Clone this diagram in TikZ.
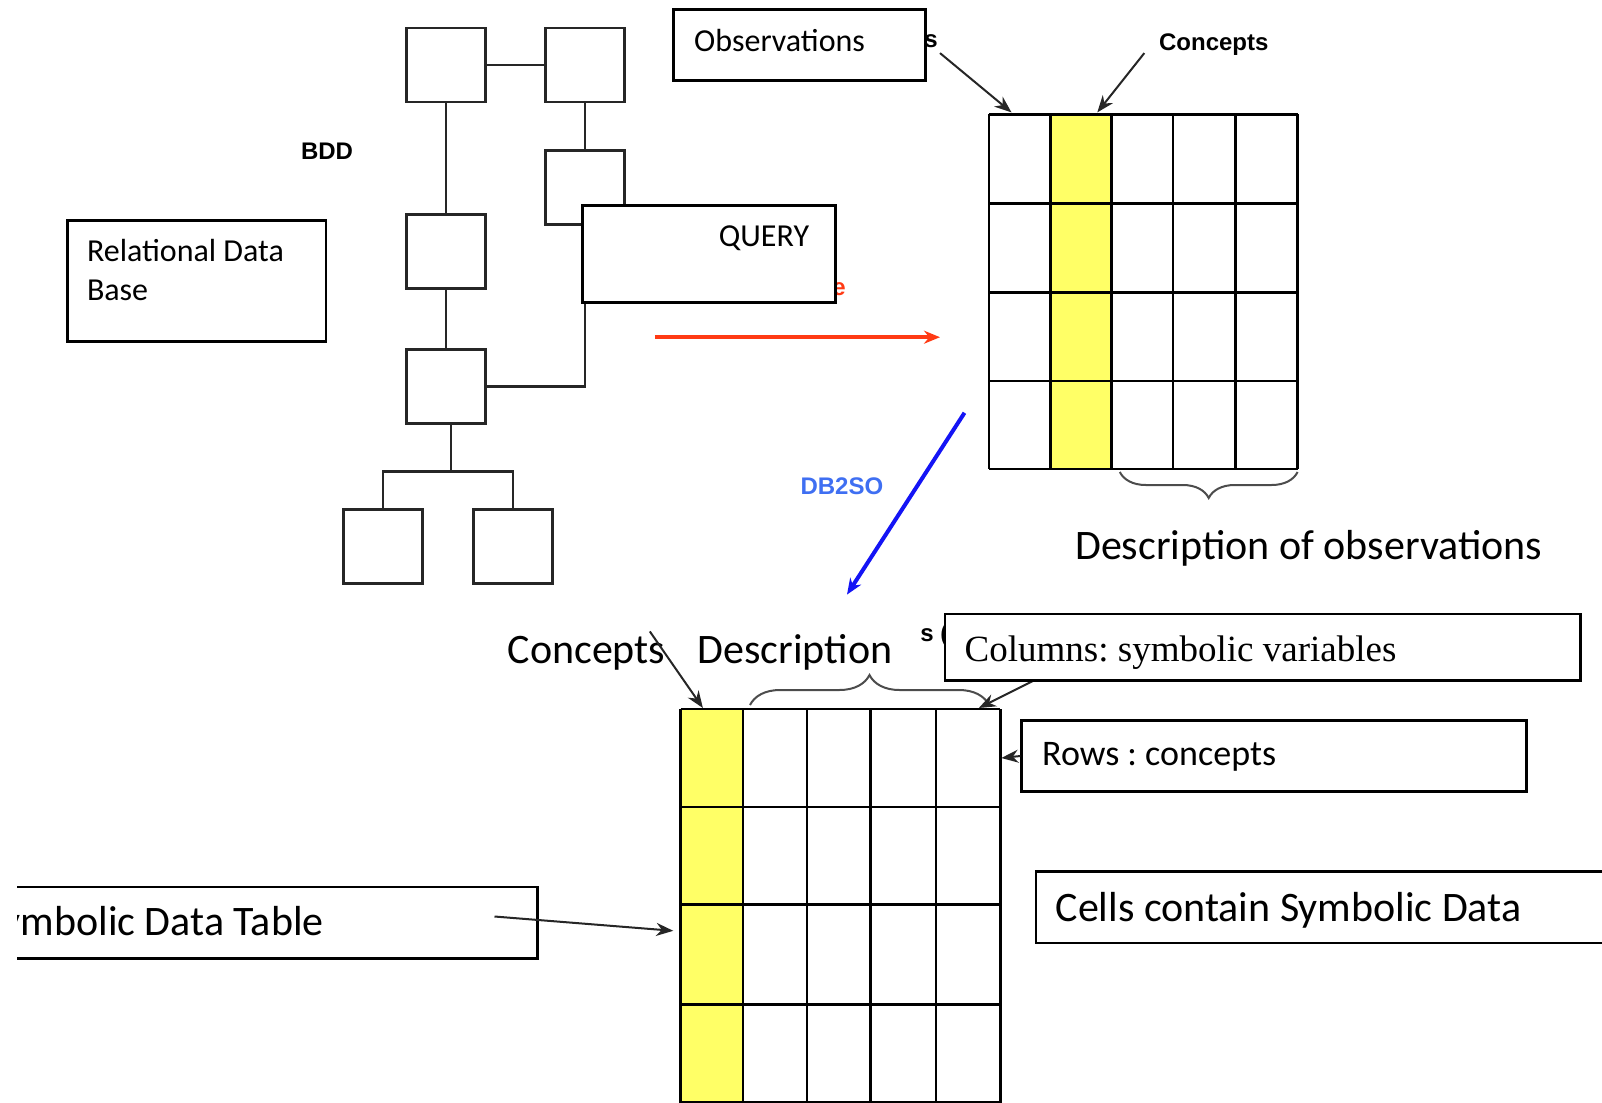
\documentclass[tikz,border=0pt]{standalone}
\usepackage{fontspec}
\setmainfont{Carlito}
\newfontfamily\arialfont{Liberation Sans}
\newfontfamily\timesfont{Liberation Serif}
\usetikzlibrary{positioning,arrows.meta,decorations.pathreplacing}

\definecolor{cellyellow}{HTML}{FFFF66}
\definecolor{queryred}{HTML}{FF3A14}
\definecolor{soblue}{HTML}{1414F5}
\definecolor{solabel}{HTML}{3F6FF2}

\newcommand{\boxfont}{\fontsize{32}{39}\selectfont}
\newcommand{\rowfont}{\fontsize{36}{43}\selectfont}
\newcommand{\bigfont}{\fontsize{42}{50}\selectfont}
\newcommand{\tagfont}{\arialfont\bfseries\fontsize{24}{28}\selectfont}
\newcommand{\serifbox}{\timesfont\fontsize{37}{44}\selectfont}

\tikzset{
  treebox/.style={draw=black!85, line width=2.6pt, fill=white, minimum width=79pt, minimum height=74pt, inner sep=0pt},
  textframe/.style={draw=black, line width=2.6pt, fill=white, inner sep=0pt},
  link/.style={draw=black!85, line width=2.6pt},
  cellline/.style={line width=2.6pt},
  pointer/.style={line width=2pt, black!85, -{Stealth[length=17pt,width=13pt]}},
  bracket/.style={decorate, decoration={brace, amplitude=#1}, line width=2pt, black!70},
}

\begin{document}
\frenchspacing
\begin{tikzpicture}[x=1pt, y=-1pt]
\useasboundingbox (0,0) rectangle (1602,1102);
\clip (17,0) rectangle (1602,1102);

% data base tree
\node[treebox] (bdd1) at (446,65) {};
\node[treebox] (bdd2) at (585,65) {};
\node[treebox] (bdd3) at (585,187.5) {};
\node[treebox] (bdd4) at (446,251.3) {};
\node[treebox] (bdd5) at (446,386.2) {};
\node[treebox] (bdd6) at (383.1,546.6) {};
\node[treebox] (bdd7) at (512.9,546.6) {};
\draw[link] (bdd1) -- (bdd2);
\draw[link] (bdd2) -- (bdd3);
\draw[link] (bdd1) -- (bdd4);
\draw[link] (bdd4) -- (bdd5);
\draw[link] (bdd3.south) |- (bdd5.east);
\draw[link] ([xshift=5pt]bdd5.south) -- ++(0,47) coordinate (split);
\draw[link] (bdd6.north) |- (split) -| (bdd7.north);
\node[font=\tagfont, anchor=base] (bddlabel) at (327,159.6) {BDD};

% relational data base
\node[textframe, minimum width=258.5pt, minimum height=120.5pt] (rdb) at (196.6,281) {};
\node[font=\boxfont, anchor=base west, align=left, inner sep=0pt] (rdbtext) at (86.8,300.5) {Relational Data\\Base};

% query
\node[font=\tagfont, text=queryred, anchor=base] (queryfrag) at (839,295) {e};
\node[textframe, minimum width=253.3pt, minimum height=97pt] (query) at (709,253.9) {};
\node[font=\boxfont, anchor=base] (querytext) at (764,246.3) {QUERY};
\draw[queryred, line width=4pt, -{Stealth[length=16pt,width=13pt]}] (654.9,337.2) -- (940,337.2);

% observations x concepts table
\fill[cellyellow] (1050.3,114.4) rectangle (1111.6,469);
\foreach \x in {989,1050.3,1111.6,1172.9,1235.2,1297.6}
  \draw[cellline] (\x,114.4) -- (\x,469);
\foreach \y in {114.4,203.3,292.2,381.1,469}
  \draw[cellline] (989,\y) -- (1297.6,\y);
\coordinate (obscol) at (1011.5,112.4);
\coordinate (conceptcol) at (1097.3,112.4);

\node[font=\tagfont, anchor=base] (obsfrag) at (931,48) {s};
\node[textframe, minimum width=252.4pt, minimum height=71.5pt] (obs) at (799.5,45) {};
\node[font=\boxfont, anchor=base west, inner sep=0pt] (obstext) at (694,51.3) {Observations};
\draw[pointer] (940,53.1) -- (obscol);
\node[font=\tagfont, anchor=base] (concepttop) at (1213.8,50.5) {Concepts};
\draw[pointer] (1144.3,53.1) -- (conceptcol);
\draw[bracket=26pt] (1297.6,472) -- (1119.8,472);
\node[font=\bigfont, anchor=base] (descobs) at (1308.8,559) {Description of observations};

% DB2SO
\draw[soblue, line width=4pt, -{Stealth[length=16pt,width=13pt]}] (964.5,412.8) -- (847,594.6);
\node[font=\tagfont, text=solabel, anchor=base] (db2so) at (841.9,494) {DB2SO};

% symbolic data table
\fill[cellyellow] (680.5,709) rectangle (742.8,1200);
\foreach \x in {680.5,742.8,807.1,870.5,935.9,1000.2}
  \draw[cellline] (\x,709) -- (\x,1200);
\foreach \y in {709,807.1,904.2,1004.3,1102.5}
  \draw[cellline] (680.5,\y) -- (1000.2,\y);
\coordinate (conceptbot) at (702.9,708);
\coordinate (varcorner) at (978.8,708);
\coordinate (rowedge) at (1001.3,758);
\coordinate (tableedge) at (673.3,930.8);

\node[font=\bigfont, anchor=base] (conceptlab) at (586.5,663.5) {Concepts};
\node[font=\bigfont, anchor=base] (desclab) at (794.9,663.5) {Description};
\draw[pointer] (649.8,631.4) -- (conceptbot);
\draw[bracket=30pt] (750,705) -- (989,705);

\node[font=\tagfont, anchor=base east] (colfrag) at (952,641) {s (};
\draw[pointer] (1045,675) -- (varcorner);
\node[textframe, minimum width=635.6pt, minimum height=66.4pt] (columns) at (1262.8,647.2) {};
\node[font=\serifbox, anchor=base west, inner sep=0pt] (coltext) at (964.5,661) {Columns: symbolic variables};

\node[textframe, minimum width=504.7pt, minimum height=71.5pt] (rows) at (1274,756) {};
\node[font=\rowfont, anchor=base west, inner sep=0pt] (rowtext) at (1042,765.5) {Rows : concepts};
\draw[pointer] (rows.west) -- (rowedge);

\node[textframe, minimum width=624pt, minimum height=71.5pt] (cells) at (1348,907.2) {};
\node[font=\bigfont, anchor=base west, inner sep=0pt] (celltext) at (1055.4,921.8) {Cells contain Symbolic Data};

\node[textframe, minimum width=577.4pt, minimum height=71.6pt] (sdt) at (248.7,922.6) {};
\node[font=\bigfont, anchor=base east, inner sep=0pt] (sdttext) at (323.9,935.5) {Symbolic Data Table};
\draw[pointer] (494.5,916.5) -- (tableedge);

\end{tikzpicture}
\end{document}
